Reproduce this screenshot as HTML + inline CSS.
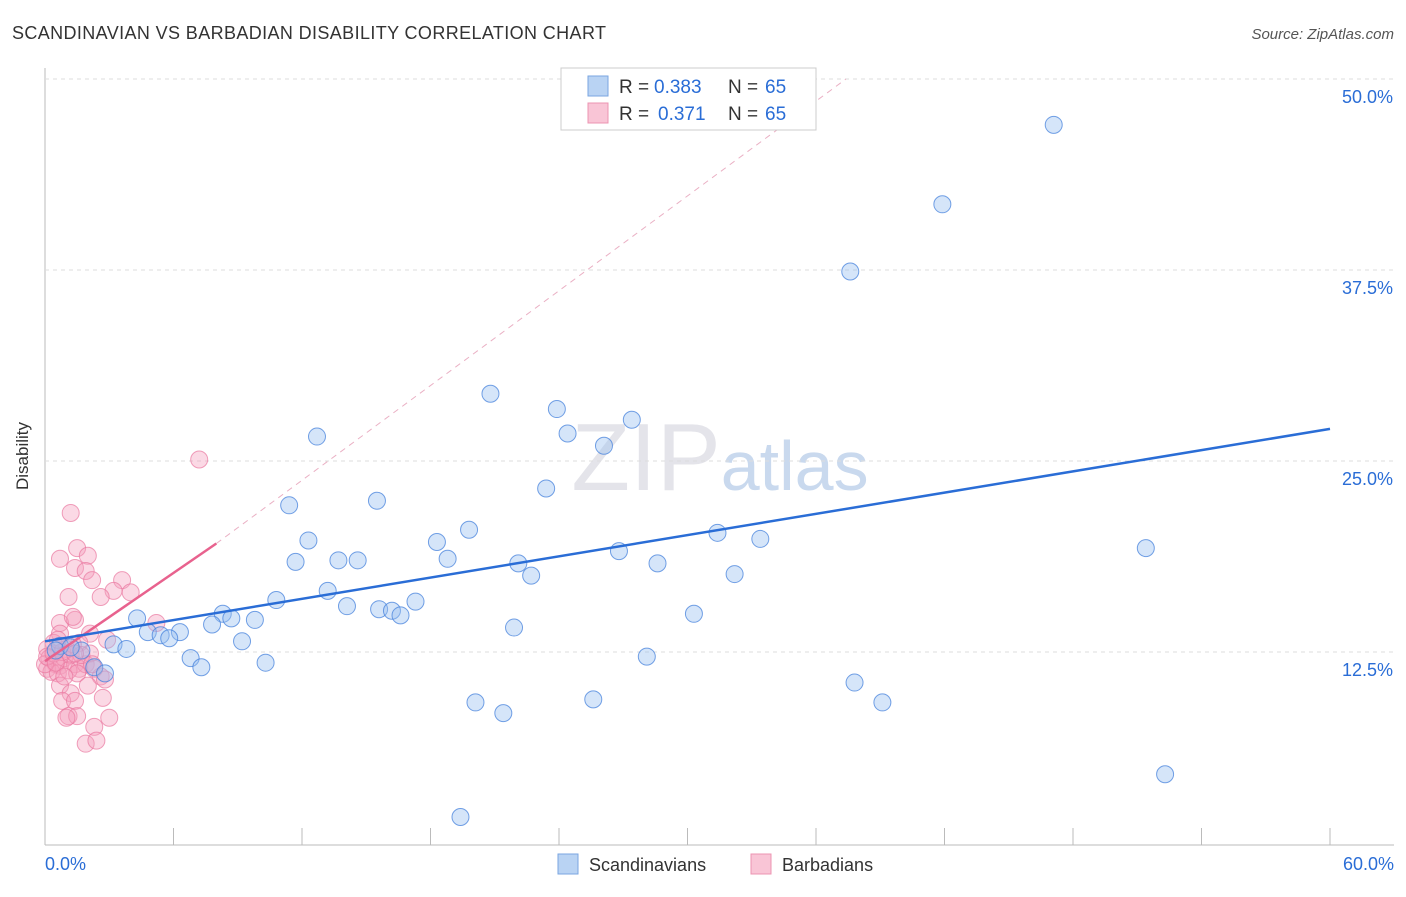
<!DOCTYPE html>
<html><head><meta charset="utf-8"><style>
body{margin:0;background:#fff;font-family:"Liberation Sans",sans-serif}
svg text{font-family:"Liberation Sans",sans-serif}
</style></head><body>
<svg id="c" width="1406" height="892" xmlns="http://www.w3.org/2000/svg">
<text x="12" y="39" font-size="18" fill="#333" textLength="594">SCANDINAVIAN VS BARBADIAN DISABILITY CORRELATION CHART</text>
<text x="1394" y="39" font-size="15" fill="#555" text-anchor="end" font-style="italic">Source: ZipAtlas.com</text>
<text x="28" y="456" font-size="17" fill="#333" text-anchor="middle" transform="rotate(-90 28 456)">Disability</text>
<text x="720" y="490" font-size="96" fill="#e4e4ea" text-anchor="middle" font-family="Liberation Serif">ZIP<tspan fill="#c9d9ee" font-family="Liberation Sans" font-size="70">atlas</tspan></text>
<g id="grid"></g><g id="pts"></g><g id="lines"></g>
<g>
<rect x="561" y="68" width="255" height="62" fill="#fff" stroke="#ccc"/>
<rect x="588" y="76" width="20" height="20" fill="#b9d3f3" stroke="#7aa6e0"/>
<rect x="588" y="103" width="20" height="20" fill="#f9c5d6" stroke="#ec94b2"/>
<text y="93" font-size="19" fill="#333"><tspan x="619">R =</tspan><tspan x="654" fill="#2a6dd6">0.383</tspan><tspan x="728">N =</tspan><tspan x="765" fill="#2a6dd6">65</tspan></text>
<text y="120" font-size="19" fill="#333"><tspan x="619">R =</tspan><tspan x="658" fill="#2a6dd6">0.371</tspan><tspan x="728">N =</tspan><tspan x="765" fill="#2a6dd6">65</tspan></text>
</g>
<g>
<rect x="558" y="854" width="20" height="20" fill="#b9d3f3" stroke="#7aa6e0"/>
<text x="589" y="871" font-size="18" fill="#333">Scandinavians</text>
<rect x="751" y="854" width="20" height="20" fill="#f9c5d6" stroke="#ec94b2"/>
<text x="782" y="871" font-size="18" fill="#333">Barbadians</text>
</g>
</svg>
<script>
const yTicks=[12.5,25,37.5,50];
const xTickLabels=["0.0%","60.0%"];
const blueX=[47.1,41.9,37.6,20.8,12.7,23.9,27.4,24.4,26.1,23.4,15.5,11.4,19.8,18.3,12.3,33.4,31.4,13.7,14.6,18.8,26.8,22.1,11.7,28.6,22.7,32.2,51.4,13.2,17.3,10.8,14.1,15.6,16.2,16.6,8.3,8.7,9.8,7.8,4.3,30.3,6.3,4.8,5.4,5.8,21.9,9.2,3.2,3.8,1.7,6.8,28.1,10.3,7.3,2.3,2.8,37.8,21.4,20.1,25.6,39.1,52.3,19.4,0.7,0.5,1.2];
const blueY=[47.0,41.8,37.4,29.4,26.6,28.4,27.7,26.8,26.0,23.2,22.4,22.1,20.5,19.7,19.8,19.9,20.3,18.5,18.5,18.6,19.1,18.3,18.4,18.3,17.5,17.6,19.3,16.5,15.8,15.9,15.5,15.3,15.2,14.9,15.0,14.7,14.6,14.3,14.7,15.0,13.8,13.8,13.6,13.4,14.1,13.2,13.0,12.7,12.6,12.1,12.2,11.8,11.5,11.5,11.1,10.5,8.5,9.2,9.4,9.2,4.5,1.7,12.9,12.6,12.8];
const pinkX=[7.2,1.2,0.7,1.5,2.0,1.4,1.9,2.2,3.6,4.0,3.2,1.1,2.6,1.4,0.7,1.3,5.2,2.1,0.7,2.9,0.4,1.6,1.0,0.1,0.2,0.5,0.7,0.9,1.2,1.4,1.6,1.9,2.1,0.1,0.3,0.6,1.1,2.3,1.5,2.6,2.8,0.7,2.0,1.2,2.7,0.8,1.4,1.1,1.5,1.0,3.0,2.3,1.9,2.4,0.0,0.1,0.4,0.8,1.3,0.6,1.7,0.9,2.2,0.5,1.4];
const pinkY=[25.1,21.6,18.6,19.3,18.8,18.0,17.8,17.2,17.2,16.4,16.5,16.1,16.1,14.6,14.4,14.8,14.4,13.7,13.7,13.3,13.1,13.1,12.7,12.7,12.1,11.7,11.6,12.1,12.3,11.7,11.4,11.7,12.4,11.4,11.2,11.1,11.3,11.4,11.1,10.9,10.7,10.3,10.3,9.8,9.5,9.3,9.3,8.3,8.3,8.2,8.2,7.6,6.5,6.7,11.7,12.2,12.4,12.5,13.0,13.3,12.3,10.9,11.7,11.8,12.4];
const blueTrend=[0,13.2,60,27.1];
const pinkTrend=[0,11.9,8.0,19.6];
const pinkDashEnd=[37.4,50.0];
const sx=v=>45+v/60*1285, sy=v=>843-v/12.5*191;
const NS="http://www.w3.org/2000/svg";
function mk(t,a,p){const e=document.createElementNS(NS,t);for(const k in a)e.setAttribute(k,a[k]);p.appendChild(e);return e;}
const g=document.getElementById('grid');
const ax=mk('line',{x1:45,y1:68,x2:45,y2:845,stroke:'#bbb'},g);


const bx=mk('line',{x1:45,y1:845,x2:1394,y2:845,stroke:'#bbb'},g);


for(let i=1;i<=10;i++){const x=45+i*128.5;const t=mk('line',{x1:x,y1:828,x2:x,y2:845,stroke:'#bbb'},g);

}
yTicks.forEach(v=>{const l=mk('line',{x1:45,y1:sy(v),x2:1394,y2:sy(v),stroke:'#ddd','stroke-dasharray':'4,4'},g);


const t=mk('text',{x:1393,y:sy(v)+24,'font-size':18,fill:'#2a6dd6','text-anchor':'end'},g);t.textContent=v.toFixed(1)+'%';

});
const x0=mk('text',{x:45,y:870,'font-size':18,fill:'#2a6dd6'},g);x0.textContent=xTickLabels[0];


const x1=mk('text',{x:1394,y:870,'font-size':18,fill:'#2a6dd6','text-anchor':'end'},g);x1.textContent=xTickLabels[1];


const P=document.getElementById('pts');
pinkX.forEach((x,i)=>{const c=mk('circle',{cx:sx(x),cy:sy(pinkY[i]),r:8.5,fill:'rgba(244,160,190,0.4)',stroke:'rgba(234,120,160,0.7)','stroke-width':1},P);

});
blueX.forEach((x,i)=>{const c=mk('circle',{cx:sx(x),cy:sy(blueY[i]),r:8.5,fill:'rgba(150,190,240,0.4)',stroke:'rgba(70,130,220,0.75)','stroke-width':1},P);

});
const L=document.getElementById('lines');
const pd=mk('line',{x1:sx(pinkTrend[2]),y1:sy(pinkTrend[3]),x2:sx(pinkDashEnd[0]),y2:sy(pinkDashEnd[1]),stroke:'#eab0c4','stroke-dasharray':'6,5','stroke-width':1},L);


const pl=mk('line',{x1:sx(pinkTrend[0]),y1:sy(pinkTrend[1]),x2:sx(pinkTrend[2]),y2:sy(pinkTrend[3]),stroke:'#e8628e','stroke-width':2.5},L);


const bl=mk('line',{x1:sx(blueTrend[0]),y1:sy(blueTrend[1]),x2:sx(blueTrend[2]),y2:sy(blueTrend[3]),stroke:'#2a6dd6','stroke-width':2.5},L);


</script>
</body></html>
